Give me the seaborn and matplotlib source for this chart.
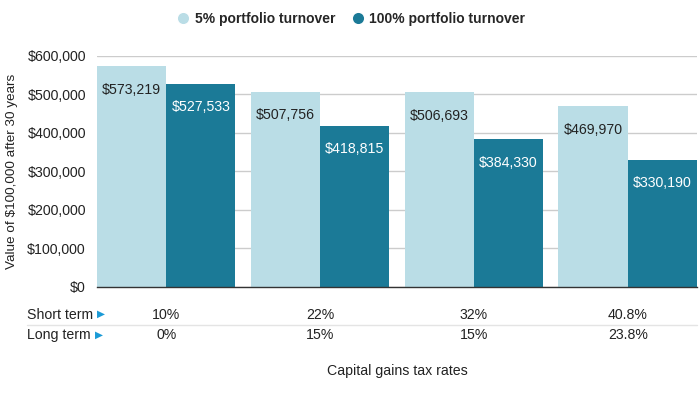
import matplotlib
matplotlib.use("Agg")
import matplotlib.pyplot as plt
import matplotlib.transforms as mtransforms
from matplotlib.lines import Line2D
import seaborn as sns
import pandas as pd

# data
short_term = ["10%", "22%", "32%", "40.8%"]
long_term = ["0%", "15%", "15%", "23.8%"]
series = ["5% portfolio turnover", "100% portfolio turnover"]
low_turnover = [573219, 507756, 506693, 469970]
high_turnover = [527533, 418815, 384330, 330190]
colors = ["#badde6", "#1b7a97"]

rows = []
for i, st in enumerate(short_term):
    rows.append({"rate": st, "series": series[0], "value": low_turnover[i]})
    rows.append({"rate": st, "series": series[1], "value": high_turnover[i]})
df = pd.DataFrame(rows)

sns.set_theme(style="white")
plt.rcParams["font.family"] = ["Liberation Sans", "DejaVu Sans"]
FS = 10.2

fig = plt.figure(figsize=(7, 3.94), dpi=100)
ax = fig.add_axes([0.1386, 0.2716, 0.857, 0.5863])

sns.barplot(data=df, x="rate", y="value", hue="series", order=short_term,
            hue_order=series, palette=colors, width=0.9, saturation=1,
            ax=ax, legend=False, linewidth=0)

ax.set_xlim(-0.45, 3.45)
ax.set_ylim(0, 600000)
ax.set_yticks(range(0, 600001, 100000))
ax.set_yticklabels([f"\\${v:,}" for v in range(0, 600001, 100000)], fontsize=FS)
ax.tick_params(axis="y", length=0, pad=8, colors="#222222")
ax.set_xticks([])
ax.set_xlabel("")
ax.set_ylabel("Value of \\$100,000 after 30 years", fontsize=9.7, color="#222222", labelpad=7)
ax.yaxis.grid(True, color="#cccccc", linewidth=1)
ax.set_axisbelow(True)
for s in ["top", "right", "left"]:
    ax.spines[s].set_visible(False)
ax.spines["bottom"].set_color("#333333")
ax.spines["bottom"].set_linewidth(1)

# value labels inside the bars
text_colors = ["#222222", "white"]
for k, cont in enumerate(ax.containers):
    for bar in cont:
        h = bar.get_height()
        ax.annotate(f"\\${h:,.0f}", (bar.get_x() + bar.get_width() / 2, h),
                    xytext=(0, -17), textcoords="offset points",
                    ha="center", va="center", fontsize=FS, color=text_colors[k])

# tax rate table below the chart
trans = mtransforms.blended_transform_factory(ax.transData, ax.transAxes)
row_y = [-0.121, -0.208]
for i in range(len(short_term)):
    ax.text(i, row_y[0], short_term[i], transform=trans, ha="center", va="center",
            fontsize=FS, color="#222222")
    ax.text(i, row_y[1], long_term[i], transform=trans, ha="center", va="center",
            fontsize=FS, color="#222222")
for y, lab in zip(row_y, ["Short term", "Long term"]):
    t = ax.text(-0.117, y, lab, transform=ax.transAxes, ha="left", va="center",
                fontsize=FS, color="#222222")
    ax.annotate("\u25B6", xy=(1, 0.5), xycoords=t, xytext=(3, 0.5),
                textcoords="offset points", ha="left", va="center",
                fontsize=7.5, color="#1a9ad6", family=["DejaVu Sans"])
ax.add_line(Line2D([-0.117, 1.0], [-0.165, -0.165], transform=ax.transAxes,
                   color="#e4e4e4", linewidth=1, clip_on=False))

ax.text(0.5, -0.365, "Capital gains tax rates", transform=ax.transAxes,
        ha="center", va="center", fontsize=FS, color="#222222")

# legend
handles = [Line2D([0], [0], marker="o", color="w", markerfacecolor=c, markersize=9,
                  linestyle="none") for c in colors]
fig.legend(handles, series, loc="center", bbox_to_anchor=(0.5, 0.952), ncol=2,
           frameon=False, prop={"size": 10, "weight": "bold"}, handletextpad=0.25,
           columnspacing=1.0, handlelength=1.2)

fig.savefig("out.png", dpi=100)
